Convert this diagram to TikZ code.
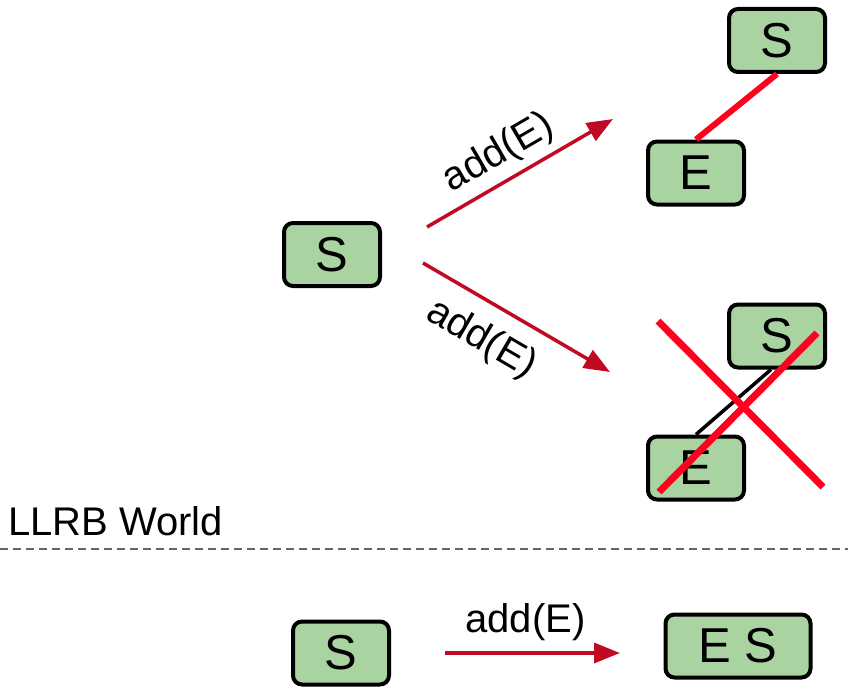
\documentclass[tikz,border=0pt]{standalone}
\usepackage{fontspec}
\setmainfont{Liberation Sans}
\usetikzlibrary{arrows.meta}
\definecolor{boxgreen}{HTML}{A9D3A1}
\definecolor{arrred}{HTML}{C00A23}
\definecolor{brightred}{HTML}{FF001E}
\definecolor{dashgray}{HTML}{666666}
\begin{document}
\begin{tikzpicture}[x=1pt,y=-1pt,
  treebox/.style={draw=black, line width=4pt, fill=boxgreen, rounded corners=9pt,
    minimum width=96pt, minimum height=63pt, inner sep=0pt, font=\fontsize{49}{57}\selectfont},
  addarrow/.style={draw=arrred, line width=3.5pt, -{Triangle[length=26pt,width=20pt]}},
  lbl/.style={font=\fontsize{40}{46}\selectfont, text=black},
  redlink/.style={draw=brightred, line width=6pt},
  blacklink/.style={draw=black, line width=3.5pt},
  crossline/.style={draw=brightred, line width=7pt},
  sepline/.style={draw=dashgray, line width=2.5pt, dash pattern=on 8pt off 5pt}]
\useasboundingbox (0,0) rectangle (848,698);

% nodes
\node[treebox] (s0) at (332,254.5) {S};
\node[treebox] (s1) at (777,40.5) {S};
\node[treebox] (e1) at (696,173) {E};
\node[treebox] (s2) at (777,336) {S};
\node[treebox] (e2) at (696,468) {E};
\node[treebox] (s3) at (341,653) {S};
\node[treebox, minimum width=145pt] (es) at (738,646) {E S};

% tree links
\draw[redlink] (s1.south) -- (e1.north);
\draw[blacklink] ([xshift=-6pt]s2.south) -- (e2.north);

% cross
\coordinate (x1a) at (658,321);
\coordinate (x1b) at (823,487);
\coordinate (x2a) at (817,333);
\coordinate (x2b) at (659,492);
\draw[crossline] (x1a) -- (x1b);
\draw[crossline] (x2a) -- (x2b);

% arrows
\coordinate (a1s) at (427,227);
\coordinate (a1e) at (613,119);
\coordinate (a2s) at (423,263);
\coordinate (a2e) at (610,372);
\coordinate (a3s) at (445,653);
\coordinate (a3e) at (620,653);
\draw[addarrow] (a1s) -- node[lbl, sloped, above=4pt, pos=0.46] {add(E)} (a1e);
\draw[addarrow] (a2s) -- node[lbl, sloped, below=13pt, pos=0.41] {add(E)} (a2e);
\draw[addarrow] (a3s) -- node[lbl, above=7pt, pos=0.46] {add(E)} (a3e);

% separator
\node[font=\fontsize{40}{46}\selectfont, anchor=base west, inner sep=0pt] (llrb) at (8,535) {LLRB World};
\coordinate (dl) at (0,549);
\coordinate (dr) at (848,549);
\draw[sepline] (dl) -- (dr);
\end{tikzpicture}
\end{document}
